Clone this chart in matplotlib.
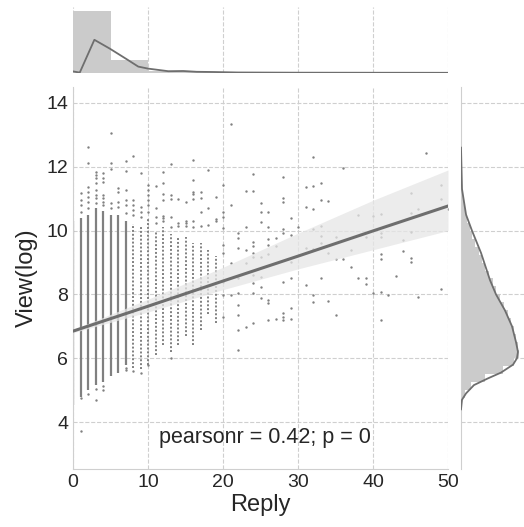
import matplotlib
matplotlib.use("Agg")
import matplotlib.pyplot as plt
import numpy as np

plt.rcParams["font.family"] = ["Liberation Sans", "DejaVu Sans"]

# dense columns of points (reply value -> low/high of the solid streak)
dense_reply = [0, 1, 2, 3, 4, 5, 6, 7]
dense_lo = [4.55, 4.78, 5.0, 5.15, 5.25, 5.45, 5.55, 5.8]
dense_hi = [10.3, 10.4, 10.5, 10.7, 10.6, 10.5, 10.5, 10.3]
# looser, dotted columns
loose_reply = [8, 9, 10, 11, 12, 13, 14, 15, 16, 17, 18, 19]
loose_lo = [5.7, 5.65, 5.8, 6.1, 6.4, 6.2, 6.4, 6.7, 6.4, 6.9, 7.4, 7.1]
loose_hi = [10.2, 10.1, 10.4, 10.0, 10.1, 9.9, 9.8, 9.8, 9.6, 9.6, 9.4, 9.2]

# individual points
sparse_reply = [1, 2, 3, 4, 5, 6, 7, 8, 9, 10, 11, 12, 13, 14, 15, 16, 17, 18, 19,
                20, 21, 22, 23, 24, 25, 26, 27, 28, 29, 30, 31, 32, 33, 34, 35, 36,
                37, 38, 39, 40, 41, 42, 43, 44, 45, 46, 47, 49, 50]
sparse_view = [
    [11.17, 10.96, 10.80, 10.59, 4.74, 3.72],
    [12.63, 12.11, 11.38, 11.22, 11.06, 10.91, 10.70, 4.87],
    [11.85, 11.74, 11.64, 11.48, 11.27, 11.12, 11.01, 10.85, 5.05, 4.69],
    [11.80, 11.64, 11.53, 11.12, 11.01, 10.91, 10.80, 5.12, 5.02],
    [13.05, 12.13, 11.92, 10.85, 10.70],
    [11.33, 11.22, 10.91, 10.75],
    [12.19, 11.87, 11.27, 10.96, 10.80, 10.54, 5.69, 5.63],
    [12.34, 10.96, 10.80, 10.65, 10.49, 5.6],
    [11.82, 10.75, 10.59, 10.44, 5.55],
    [11.43, 11.27, 11.12, 10.96, 10.80, 10.59, 5.79],
    [11.40, 10.70, 10.44, 10.23],
    [11.85, 11.50, 11.15, 10.96, 10.47, 10.38, 10.31],
    [12.09, 11.13, 11.00, 10.43, 10.10, 6.0],
    [11.00, 10.23, 10.15],
    [10.91, 10.30, 10.23, 10.16],
    [12.20, 11.59, 11.22, 11.15, 11.00, 10.30, 10.12],
    [11.22, 11.01, 10.59, 10.15],
    [11.90, 10.70, 10.17],
    [11.06, 10.35, 10.30],
    [11.43, 10.59, 10.44, 10.09, 9.55, 9.3, 8.4, 7.98, 7.3],
    [13.33, 10.80, 9.0, 7.98],
    [9.93, 9.76, 9.45, 8.5, 8.03, 7.67, 7.35, 6.88, 6.26],
    [11.24, 10.12, 9.4, 9.0, 6.98],
    [11.76, 11.24, 9.63, 9.53, 9.29, 9.18, 8.61, 8.35, 8.06, 7.09],
    [10.85, 10.59, 10.28, 9.18, 8.56, 8.24, 7.88],
    [10.57, 10.12, 9.73, 9.55, 9.27, 7.82, 7.72, 7.20],
    [9.76, 9.53, 7.22],
    [11.69, 11.01, 10.91, 10.05, 9.91, 8.40, 7.41, 7.30, 7.20],
    [10.38, 9.86, 9.03, 8.50, 7.59, 7.22],
    [10.12],
    [11.38, 10.75, 9.46, 8.29],
    [12.30, 11.40, 10.67, 10.05, 9.41, 7.98, 7.77],
    [11.48, 10.96, 10.15, 9.83, 9.60, 8.53],
    [10.94, 9.29, 7.80],
    [9.79, 9.12, 7.35],
    [11.95, 9.12],
    [9.39, 8.85],
    [10.49, 8.53],
    [9.81, 8.53, 8.32],
    [10.47, 8.03],
    [10.52, 9.91, 9.81, 9.26, 9.10, 8.09, 7.20],
    [7.98],
    [8.58],
    [9.71, 9.37],
    [11.19, 10.56, 9.95, 9.15, 9.02],
    [10.68, 7.93],
    [12.44],
    [11.43, 10.98, 8.16],
    [10.67],
]

# regression line and confidence band
fit_reply = [0, 10, 20, 30, 40, 50]
fit_view = [6.85, 7.63, 8.42, 9.20, 9.99, 10.77]
ci_hi = [6.9, 7.85, 8.85, 9.92, 10.95, 11.9]
ci_lo = [6.8, 7.45, 8.15, 8.8, 9.4, 10.0]

# top marginal: histogram of Reply + kde
reply_edges = [0, 5, 10, 15, 20, 25, 30, 35, 40, 45, 50]
reply_dens = [0.155, 0.033, 0.006, 0.003, 0.0015, 0.001, 0.0006, 0.0004, 0.0003, 0.0002]
reply_kde_x = [0, 0.9, 2.85, 4.9, 7.2, 8.7, 10, 12.7, 14.7, 16.5, 18.7, 22, 30, 50]
reply_kde_y = [0.004, 0.001, 0.083, 0.061, 0.034, 0.016, 0.011, 0.0045, 0.005, 0.003,
               0.0025, 0.0013, 0.0008, 0.0005]

# right marginal: histogram of View(log) + kde
view_edges = [4.5, 4.75, 5.0, 5.25, 5.5, 5.75, 6.0, 6.25, 6.5, 6.75, 7.0, 7.25, 7.5,
              7.75, 8.0, 8.25, 8.5, 8.75, 9.0, 9.25, 9.5, 9.75, 10.0, 10.25, 10.5,
              10.75, 11.0, 11.25, 11.5, 11.75, 12.0, 12.25, 12.5]
view_dens = [0.01, 0.03, 0.08, 0.19, 0.33, 0.42, 0.46, 0.45, 0.44, 0.42, 0.40, 0.37,
             0.34, 0.31, 0.28, 0.25, 0.22, 0.19, 0.17, 0.14, 0.11, 0.09, 0.07, 0.05,
             0.035, 0.02, 0.012, 0.008, 0.005, 0.003, 0.002, 0.001]
view_kde_y = [4.4, 4.7, 4.9, 5.16, 5.37, 5.55, 5.8, 6.0, 6.2, 6.5, 7.0, 7.5, 8.0, 8.45,
              9.3, 10.0, 10.5, 11.3, 12.6]
view_kde_d = [0, 0.008, 0.04, 0.103, 0.214, 0.317, 0.413, 0.444, 0.452, 0.437, 0.405,
              0.349, 0.278, 0.23, 0.159, 0.087, 0.04, 0.008, 0]

GRID = "#cfcfcf"
PT = "#808080"
HIST = "#cbcbcb"
LINE = "#6e6e6e"
TXT = "#262626"

W, H = 524, 527
fig = plt.figure(figsize=(W / 100, H / 100), dpi=100)
ax = fig.add_axes([73 / W, 1 - 469 / H, 375 / W, 382 / H])
axt = fig.add_axes([73 / W, 1 - 73 / H, 375 / W, 66 / H])
axr = fig.add_axes([461 / W, 1 - 469 / H, 63 / W, 382 / H])

for a in (ax, axt, axr):
    a.set_facecolor("white")
    a.grid(True, color=GRID, linestyle="--", linewidth=0.8)
    a.set_axisbelow(True)
    for s in a.spines.values():
        s.set_visible(False)
    a.tick_params(length=0, colors=TXT, labelsize=14)

# main plot
ax.vlines(dense_reply, dense_lo, dense_hi, color=PT, linewidth=1.6, zorder=2)
ax.vlines(loose_reply, loose_lo, loose_hi, color=PT, linewidth=1.4,
          linestyle=(0, (1.0, 1.0)), zorder=2)
sx = [r for r, vs in zip(sparse_reply, sparse_view) for _ in vs]
sy = [v for vs in sparse_view for v in vs]
ax.scatter(sx, sy, s=3, color=PT, linewidths=0, zorder=2)
ax.fill_between(fit_reply, ci_lo, ci_hi, color="#e6e6e6", alpha=0.75, linewidth=0, zorder=3)
ax.plot(fit_reply, fit_view, color=LINE, linewidth=2.2, zorder=4)
ax.set_xlim(0, 50)
ax.set_ylim(2.53, 14.5)
ax.set_xticks([0, 10, 20, 30, 40, 50])
ax.set_yticks([4, 6, 8, 10, 12, 14])
ax.spines["left"].set_visible(True)
ax.spines["bottom"].set_visible(True)
ax.spines["left"].set_color(GRID)
ax.spines["bottom"].set_color(GRID)
ax.set_xlabel("Reply", fontsize=17, color=TXT, labelpad=2)
ax.set_ylabel("View(log)", fontsize=17, color=TXT, labelpad=6)
ax.text(25.6, 3.53, "pearsonr = 0.42; p = 0", fontsize=15.5, color=TXT,
        ha="center", va="center")

# top marginal
axt.hist(reply_edges[:-1], bins=reply_edges, weights=reply_dens, color=HIST, zorder=2)
axt.plot(reply_kde_x, reply_kde_y, color=LINE, linewidth=1.3, zorder=3)
axt.set_xlim(0, 50)
axt.set_ylim(0, 0.165)
axt.set_xticks([0, 10, 20, 30, 40, 50])
axt.set_xticklabels([])
axt.set_yticklabels([])
axt.yaxis.grid(False)

# right marginal
axr.hist(view_edges[:-1], bins=view_edges, weights=view_dens, orientation="horizontal",
         color=HIST, zorder=2)
axr.plot(view_kde_d, view_kde_y, color=LINE, linewidth=1.3, zorder=3)
axr.set_ylim(2.53, 14.5)
axr.set_xlim(0, 0.5)
axr.set_yticks([4, 6, 8, 10, 12, 14])
axr.set_xticklabels([])
axr.set_yticklabels([])
axr.xaxis.grid(False)
axr.spines["left"].set_visible(True)
axr.spines["left"].set_color(GRID)

fig.savefig("out.png", dpi=100)
